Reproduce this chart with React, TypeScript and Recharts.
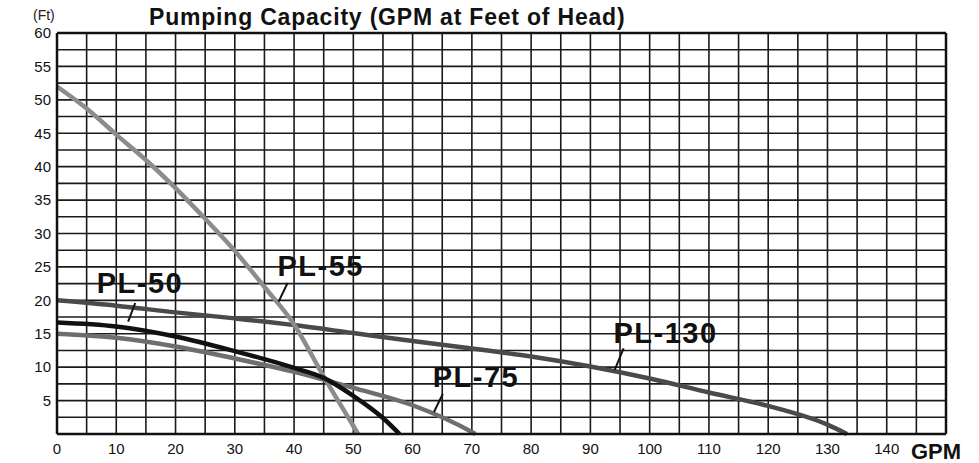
import { LineChart, Line, XAxis, YAxis, CartesianGrid, ReferenceLine, ReferenceDot } from 'recharts';

// curves: gpm -> feet of head
const pl55 = [
  { x: 0, y: 52 }, { x: 5, y: 48.7 }, { x: 10, y: 44.8 }, { x: 15, y: 41 },
  { x: 20, y: 36.8 }, { x: 25, y: 32.2 }, { x: 30, y: 27.4 }, { x: 35, y: 22 },
  { x: 40, y: 16.4 }, { x: 45, y: 8.6 }, { x: 50, y: 1.2 }, { x: 50.8, y: 0 },
];
const pl130 = [
  { x: 0, y: 20 }, { x: 10, y: 19.2 }, { x: 20, y: 18.2 }, { x: 30, y: 17.3 },
  { x: 40, y: 16.3 }, { x: 50, y: 15.1 }, { x: 60, y: 13.9 }, { x: 70, y: 12.8 },
  { x: 80, y: 11.6 }, { x: 90, y: 10.1 }, { x: 100, y: 8.3 }, { x: 110, y: 6.2 },
  { x: 120, y: 4.2 }, { x: 130, y: 1.4 }, { x: 133.3, y: 0 },
];
const pl50 = [
  { x: 0, y: 16.7 }, { x: 10, y: 16.1 }, { x: 20, y: 14.6 }, { x: 30, y: 12.4 },
  { x: 40, y: 9.9 }, { x: 45, y: 8.4 }, { x: 50, y: 5.7 }, { x: 55, y: 2.4 },
  { x: 57.8, y: 0 },
];
const pl75 = [
  { x: 0, y: 15 }, { x: 10, y: 14.4 }, { x: 20, y: 13.1 }, { x: 30, y: 11.3 },
  { x: 40, y: 9.3 }, { x: 50, y: 6.9 }, { x: 60, y: 4.3 }, { x: 70, y: 0.3 },
  { x: 70.6, y: 0 },
];

const xTicks = Array.from({ length: 31 }, (_, i) => i * 5);
const yTicks = Array.from({ length: 25 }, (_, i) => i * 2.5);

// curve name labels (baseline-left anchor) and their leader lines
const labels = [
  { name: 'PL-50', x: 6.7, y: 21.1, from: { x: 12.0, y: 16.8 }, to: { x: 13.2, y: 19.6 } },
  { name: 'PL-55', x: 37.2, y: 23.7, from: { x: 37.4, y: 19.8 }, to: { x: 38.9, y: 22.6 } },
  { name: 'PL-75', x: 63.4, y: 7.0, from: { x: 63.6, y: 3.3 }, to: { x: 65.1, y: 6.0 } },
  { name: 'PL-130', x: 93.9, y: 13.6, from: { x: 94.1, y: 9.6 }, to: { x: 95.6, y: 12.8 } },
];

const font = 'Arial, "Liberation Sans", Helvetica, sans-serif';

export default function App() {
  return (
    <div style={{ position: 'absolute', left: 0, top: 0, width: 979, height: 463, background: '#fff', fontFamily: font }}>
      <div style={{ position: 'absolute', left: 149, top: 4, fontSize: 23, lineHeight: '27px', fontWeight: 700, letterSpacing: 0.8, color: '#111' }}>
        Pumping Capacity (GPM at Feet of Head)
      </div>
      <div style={{ position: 'absolute', left: 33, top: 7, fontSize: 14, lineHeight: '16px', color: '#222' }}>(Ft)</div>
      <div style={{ position: 'absolute', left: 911, top: 439, fontSize: 22, lineHeight: '25px', fontWeight: 700, color: '#111', whiteSpace: 'nowrap' }}>GPM</div>
      <LineChart width={979} height={463} margin={{ top: 33, right: 33, left: 0, bottom: 0 }}>
        <CartesianGrid stroke="#1a1a1a" strokeWidth={1.6} />
        <XAxis
          type="number"
          dataKey="x"
          domain={[0, 150]}
          ticks={xTicks}
          interval={0}
          height={29}
          tickLine={false}
          axisLine={{ stroke: '#111', strokeWidth: 2.5 }}
          tick={{ fontSize: 15, fill: '#111', fontFamily: font }}
          tickMargin={3}
          tickFormatter={(v: number) => (v % 10 === 0 && v < 150 ? String(v) : '')}
        />
        <YAxis
          type="number"
          domain={[0, 60]}
          ticks={yTicks}
          interval={0}
          width={57}
          tickLine={false}
          axisLine={{ stroke: '#111', strokeWidth: 2.5 }}
          tick={{ fontSize: 15, fill: '#111', fontFamily: font }}
          tickMargin={0}
          tickFormatter={(v: number) => (v % 5 === 0 && v > 0 ? String(v) : '')}
        />
        <ReferenceLine y={60} stroke="#111" strokeWidth={2.5} />
        <ReferenceLine x={150} stroke="#111" strokeWidth={2.5} />
        <Line data={pl130} dataKey="y" type="monotone" stroke="#4a4a4a" strokeWidth={4.5} dot={false} isAnimationActive={false} />
        <Line data={pl75} dataKey="y" type="monotone" stroke="#6e6e6e" strokeWidth={4.5} dot={false} isAnimationActive={false} />
        <Line data={pl55} dataKey="y" type="monotone" stroke="#8c8c8c" strokeWidth={4.5} dot={false} isAnimationActive={false} />
        <Line data={pl50} dataKey="y" type="monotone" stroke="#111" strokeWidth={4.5} dot={false} isAnimationActive={false} />
        {labels.map((l) => (
          <ReferenceLine key={l.name + '-lead'} segment={[l.from, l.to]} stroke="#111" strokeWidth={2} />
        ))}
        {labels.map((l) => (
          <ReferenceDot
            key={l.name}
            x={l.x}
            y={l.y}
            r={0}
            shape={(p: any) => (
              <text x={p.cx} y={p.cy} fontSize={29} fontWeight={700} letterSpacing={1.5} fill="#111" fontFamily={font}>
                {l.name}
              </text>
            )}
          />
        ))}
      </LineChart>
    </div>
  );
}
